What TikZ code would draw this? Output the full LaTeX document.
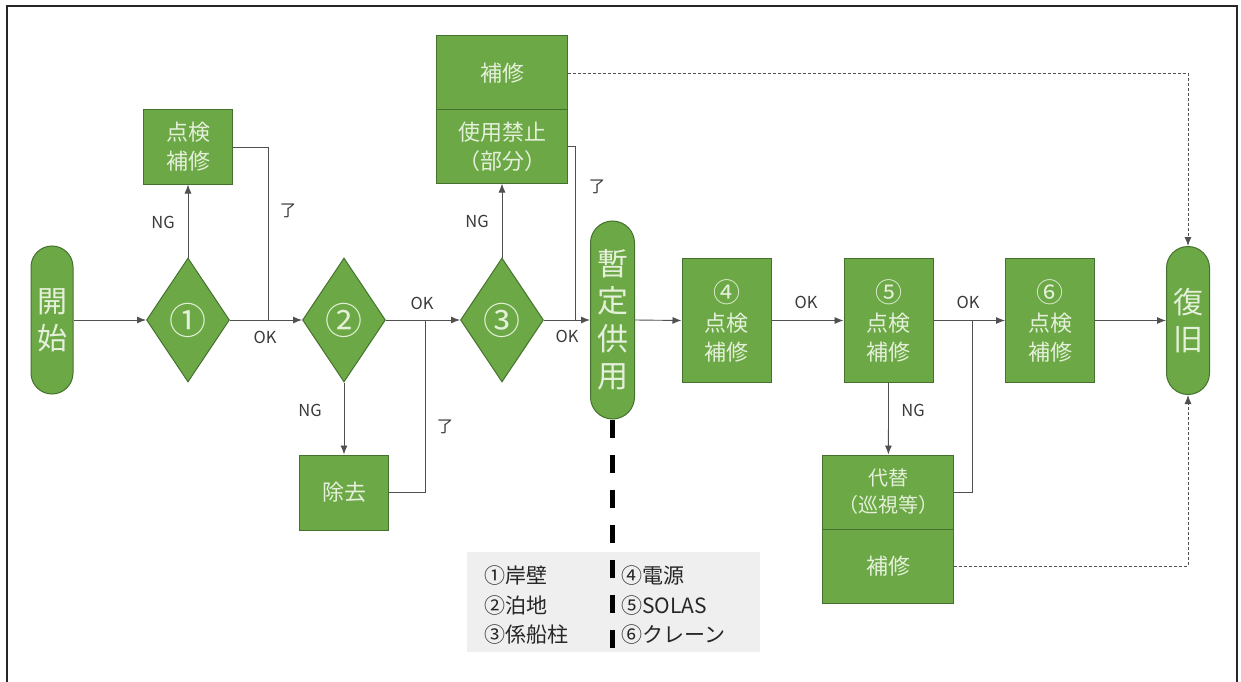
\documentclass[tikz,border=0pt]{standalone}
\usepackage{fontspec}
\setmainfont{Noto Sans CJK JP}
\usetikzlibrary{shapes.geometric,arrows.meta}
\definecolor{gfill}{HTML}{6CA845}
\definecolor{gline}{HTML}{44722E}
\definecolor{gtext}{HTML}{E4F0DA}
\definecolor{conncol}{HTML}{505050}
\definecolor{lblcol}{HTML}{3A3A3A}
\definecolor{legbg}{HTML}{EFEFEF}
\newcommand{\bignum}[1]{{\fontsize{27}{29}\selectfont #1}}
\begin{document}
\begin{tikzpicture}[x=1pt,y=-1pt,
  gbox/.style={draw=gline,fill=gfill,text=gtext,line width=1pt,inner sep=0pt,align=center},
  pill/.style={gbox,minimum width=42pt,rounded corners=21pt},
  dia/.style={gbox,diamond,minimum width=83pt,minimum height=124pt,font=\fontsize{37}{40}\selectfont},
  rbox/.style={gbox,minimum width=89pt,font=\fontsize{22}{29}\selectfont},
  sbox/.style={gbox,minimum width=131pt,minimum height=74pt,font=\fontsize{22}{29}\selectfont},
  cline/.style={draw=conncol,line width=0.9pt},
  arr/.style={cline,-{Latex[length=9pt,width=7pt]}},
  dotline/.style={draw=conncol,line width=0.9pt,dash pattern=on 3pt off 2pt,-{Latex[length=9pt,width=7pt]}},
  lab/.style={text=lblcol,inner sep=0pt,font=\fontsize{16.5}{19}\selectfont},
  legtext/.style={anchor=west,align=left,inner sep=0pt,text=black!85,font=\fontsize{21}{29.5}\selectfont}
]
\useasboundingbox (0,0) rectangle (1241,682);
\fill[white] (0,0) rectangle (1241,682);
\draw[line width=2pt,draw=black!85] (7,682) -- (7,6) -- (1237,6) -- (1237,682);

% legend background
\node[fill=legbg,minimum width=293pt,minimum height=100pt,inner sep=0pt] (leg) at (613,601.7) {};
\node[legtext] (legL) at (484,605.5) {①岸壁\\②泊地\\③係船柱};
\node[legtext] (legR) at (621,605.5) {④電源\\⑤SOLAS\\⑥クレーン};

% nodes
\node[pill,minimum height=148pt,font=\fontsize{30}{37}\selectfont] (start) at (52,320) {開\\始};
\node[dia] (d1) at (188,320) {①};
\node[rbox,minimum height=74pt] (b1) at (188,147) {点検\\補修};
\node[dia] (d2) at (344,320) {②};
\node[rbox,minimum height=75pt] (b2) at (344,492.5) {除去};
\node[dia] (d3) at (502,320) {③};
\node[sbox] (r3a) at (502,73) {補修};
\node[sbox,minimum height=73pt] (r3b) at (502,146.5) {使用禁止\\（部分）};
\node[pill,minimum width=44pt,rounded corners=22pt,minimum height=198pt,font=\fontsize{31}{37.5}\selectfont] (mid) at (612.5,320) {暫\\定\\供\\用};
\node[rbox,minimum height=124pt] (b4) at (726.5,320.5) {\bignum{④}\\点検\\補修};
\node[rbox,minimum height=124pt] (b5) at (888.5,320.5) {\bignum{⑤}\\点検\\補修};
\node[rbox,minimum height=124pt] (b6) at (1050,320.5) {\bignum{⑥}\\点検\\補修};
\node[pill,minimum width=43pt,rounded corners=21.5pt,minimum height=148pt,font=\fontsize{30}{37}\selectfont] (end) at (1188,320.5) {復\\旧};
\node[sbox,font=\fontsize{20}{27}\selectfont] (r5a) at (888.4,492) {代替\\（巡視等）};
\node[sbox] (r5b) at (888.4,566) {補修};

% junctions
\coordinate (j1) at (268,320);
\coordinate (j2) at (425,320);
\coordinate (j3) at (575,320);
\coordinate (j5) at (972.7,320);
\coordinate (dend) at (612.5,653);

% dashed divider
\draw[line width=5pt,draw=black,dash pattern=on 18pt off 17pt] (mid.south) -- (dend);

% connectors
\draw[arr] (start.east) -- (d1.west);
\draw[arr] (d1.east) -- (d2.west);
\draw[arr] (d1.north) -- (b1.south);
\draw[cline] (b1.east) -| (j1);
\draw[arr] (d2.south) -- (b2.north);
\draw[arr] (d2.east) -- (d3.west);
\draw[cline] (b2.east) -| (j2);
\draw[arr] (d3.north) -- (r3b.south);
\draw[arr] (d3.east) -- (mid.west);
\draw[cline] (r3b.east) -| (j3);
\draw[dotline] (r3a.east) -| (end.north);
\draw[arr] (mid.east) -- (b4.west);
\draw[arr] (b4.east) -- (b5.west);
\draw[arr] (b5.east) -- (b6.west);
\draw[arr] (b5.south) -- (r5a.north);
\draw[cline] (r5a.east) -| (j5);
\draw[arr] (b6.east) -- (end.west);
\draw[dotline] (r5b.east) -| (end.south);

% labels
\node[lab] (ng1) at (163,222) {NG};
\node[lab] (ng2) at (477,221) {NG};
\node[lab] (ng3) at (310,410) {NG};
\node[lab] (ng4) at (913,410) {NG};
\node[lab] (ok1) at (265,337) {OK};
\node[lab] (ok2) at (422,303) {OK};
\node[lab] (ok3) at (567,336) {OK};
\node[lab] (ok4) at (806,302) {OK};
\node[lab] (ok5) at (968,302) {OK};
\node[lab] (ry1) at (288,211) {了};
\node[lab] (ry2) at (445,427) {了};
\node[lab] (ry3) at (597,187) {了};
\end{tikzpicture}
\end{document}
